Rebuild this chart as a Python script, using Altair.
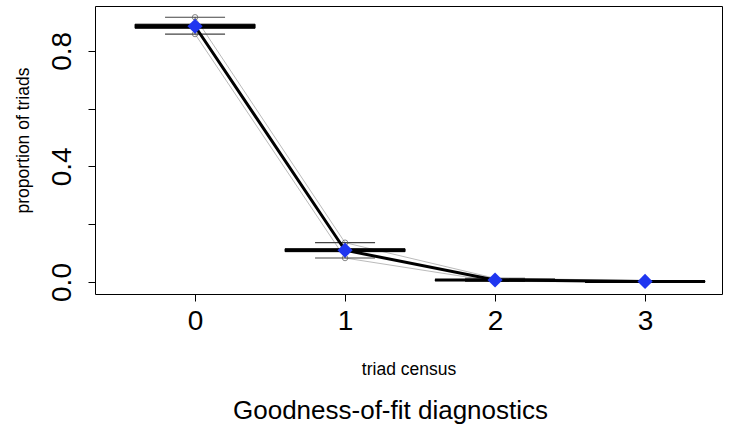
import altair as alt
import pandas as pd

# ---- data ----
cats = [0, 1, 2, 3]
observed = [0.885, 0.110, 0.007, 0.002]
q1 = [0.878, 0.105, 0.005, 0.001]
median = [0.885, 0.110, 0.007, 0.002]
q3 = [0.892, 0.115, 0.008, 0.003]
whisk_lo = [0.858, 0.083, 0.002, 0.000]
whisk_hi = [0.916, 0.136, 0.013, 0.005]
y_ticks = [0.0, 0.2, 0.4, 0.6, 0.8]
y_labeled = [0.0, 0.4, 0.8]

df = pd.DataFrame({
    "x": cats, "obs": observed, "q1": q1, "med": median, "q3": q3,
    "lo": whisk_lo, "hi": whisk_hi,
})
df["bl"] = df["x"] - 0.4
df["br"] = df["x"] + 0.4
df["cl"] = df["x"] - 0.2
df["cr"] = df["x"] + 0.2

FONT = "Liberation Sans"
xs = alt.Scale(domain=[-0.667, 3.513], nice=False, zero=False)
ys = alt.Scale(domain=[-0.0415, 0.955], nice=False, zero=False)

label_expr = "indexof(%s, datum.value) >= 0 ? format(datum.value, '.1f') : ''" % str(y_labeled)

x_axis = alt.Axis(values=cats, format="d", title="triad census", labelFontSize=28, labelPadding=6,
                  titleFontSize=17.5, titleFontWeight="normal", titleY=75, titleBaseline="middle",
                  tickSize=7, tickColor="black", domain=False, grid=False, labelColor="black",
                  titleColor="black", labelFont=FONT, titleFont=FONT)
y_axis = alt.Axis(values=y_ticks, labelExpr=label_expr, title="proportion of triads",
                  labelFontSize=28, labelAngle=-90, labelAlign="center", labelBaseline="bottom",
                  labelPadding=12, titleFontSize=17.5, titleFontWeight="normal", titleX=-72,
                  titleY=134, titleAngle=-90, titleAlign="center", titleBaseline="middle",
                  tickSize=7, tickColor="black", domain=False, grid=False, labelColor="black",
                  titleColor="black", labelFont=FONT, titleFont=FONT)

base = alt.Chart(df)

# axes carrier (invisible)
axes = base.mark_point(opacity=0).encode(
    x=alt.X("x:Q", scale=xs, axis=x_axis),
    y=alt.Y("obs:Q", scale=ys, axis=y_axis),
)

whisk = base.mark_rule(color="#555555", strokeWidth=1).encode(
    x=alt.X("x:Q", scale=xs), y=alt.Y("lo:Q", scale=ys), y2="hi:Q")
cap_lo = base.mark_rule(color="#444444", strokeWidth=1.2).encode(
    x=alt.X("cl:Q", scale=xs), x2="cr:Q", y=alt.Y("lo:Q", scale=ys))
cap_hi = base.mark_rule(color="#444444", strokeWidth=1.2).encode(
    x=alt.X("cl:Q", scale=xs), x2="cr:Q", y=alt.Y("hi:Q", scale=ys))
box = base.mark_rect(color="black", stroke="black", strokeWidth=1).encode(
    x=alt.X("bl:Q", scale=xs), x2="br:Q", y=alt.Y("q1:Q", scale=ys), y2="q3:Q")
med = base.mark_rule(color="black", strokeWidth=3).encode(
    x=alt.X("bl:Q", scale=xs), x2="br:Q", y=alt.Y("med:Q", scale=ys))

gray_hi = base.mark_line(color="#bbbbbb", strokeWidth=1).encode(
    x=alt.X("x:Q", scale=xs), y=alt.Y("hi:Q", scale=ys))
gray_lo = base.mark_line(color="#bbbbbb", strokeWidth=1).encode(
    x=alt.X("x:Q", scale=xs), y=alt.Y("lo:Q", scale=ys))
obs_line = base.mark_line(color="black", strokeWidth=3).encode(
    x=alt.X("x:Q", scale=xs), y=alt.Y("obs:Q", scale=ys))

out_df = pd.DataFrame({"x": cats[:2] * 2, "v": whisk_lo[:2] + whisk_hi[:2]})
outl = alt.Chart(out_df).mark_point(shape="circle", filled=False, color="#555555",
                                    size=30, strokeWidth=1).encode(
    x=alt.X("x:Q", scale=xs), y=alt.Y("v:Q", scale=ys))

diam = base.mark_point(shape="diamond", filled=True, color="#1f36f0", size=230, opacity=1).encode(
    x=alt.X("x:Q", scale=xs), y=alt.Y("obs:Q", scale=ys))

chart = alt.layer(axes, gray_hi, gray_lo, whisk, cap_lo, cap_hi, box, med, outl, obs_line, diam).properties(
    width=627, height=288,
    title=alt.TitleParams("Goodness-of-fit diagnostics", orient="bottom", fontSize=26,
                          font=FONT, fontWeight="normal", color="black", offset=20, dx=-18,
                          anchor="middle"),
    autosize=alt.AutoSizeParams(type="none"),
    padding={"left": 95, "top": 6, "right": 13, "bottom": 135},
).configure(background="white").configure_view(stroke="black", strokeWidth=1)

chart.save("out.html", embed_options={"renderer": "svg", "actions": False})
